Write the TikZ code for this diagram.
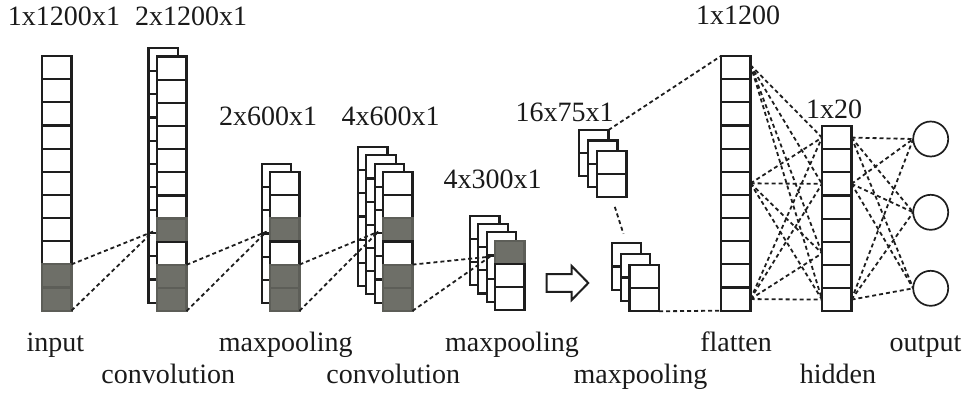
\documentclass[tikz,border=0pt]{standalone}
\usepackage{fontspec}
\setmainfont{Liberation Serif}
\usetikzlibrary{calc}

\definecolor{cnngray}{RGB}{110,111,104}
\definecolor{inkline}{RGB}{30,30,30}
\definecolor{labelink}{RGB}{26,26,26}

\def\cellw{29.5}
\def\cellh{23.15}

\tikzset{
  cell/.style={draw=inkline, line width=2.2pt, minimum width=\cellw pt,
    minimum height=\cellh pt, inner sep=0pt, outer sep=0pt},
  outnode/.style={circle, draw=inkline, line width=1.7pt, minimum size=35pt,
    inner sep=0pt, outer sep=0pt},
  link/.style={draw=inkline, line width=1.8pt, dash pattern=on 4pt off 3pt},
  lbl/.style={font=\fontsize{28}{32}\selectfont, text=labelink, anchor=base,
    inner sep=0pt},
}

% A column of cells: name, left edge, top edge, number of cells, shaded cells (0 = none)
\newcommand{\cnncol}[5]{%
  \foreach \k in {1,...,#4} {%
    \def\cellfill{white}%
    \def\celledge{inkline}%
    \foreach \g in {#5} {\ifnum\g=\k\relax \xdef\cellfill{cnngray}\xdef\celledge{cnngray!85!black}\fi}%
    \node[cell, fill=\cellfill, draw=\celledge] (#1-\k) at ({#2+\cellw/2}, {#3+(\k-0.5)*\cellh}) {};
  }%
}

\begin{document}
\begin{tikzpicture}[x=1pt, y=-1pt]
\useasboundingbox (0,0) rectangle (966,396);

% input
\cnncol{in}{42}{56}{11}{10,11}
% convolution 1
\cnncol{cA}{148.5}{48}{11}{0}
\cnncol{cB}{157}{56.5}{11}{8,10,11}
% maxpooling 1
\cnncol{pA}{261.7}{164}{6}{0}
\cnncol{pB}{270}{172}{6}{3,5,6}
% convolution 2
\cnncol{dA}{358}{147}{6}{0}
\cnncol{dB}{366.3}{155.3}{6}{0}
\cnncol{dC}{374.7}{163.7}{6}{0}
\cnncol{dD}{383}{172}{6}{3,5,6}
% maxpooling 2
\cnncol{qA}{470}{215.7}{3}{0}
\cnncol{qB}{478.3}{224}{3}{0}
\cnncol{qC}{486.7}{232.3}{3}{0}
\cnncol{qD}{495}{240.7}{3}{1}
% maxpooling 3, first and last maps
\cnncol{rA}{579}{130}{2}{0}
\cnncol{rB}{588}{140.5}{2}{0}
\cnncol{rC}{597}{151}{2}{0}
\cnncol{sA}{611.7}{243.3}{2}{0}
\cnncol{sB}{620.7}{254.3}{2}{0}
\cnncol{sC}{629.5}{265}{2}{0}
% flatten and hidden
\cnncol{fl}{721}{56}{11}{0}
\cnncol{hd}{822}{126}{8}{0}
% output units
\node[outnode] (o1) at (930.7,139) {};
\node[outnode] (o2) at (930.7,212.3) {};
\node[outnode] (o3) at (930.7,288.3) {};

% hollow block arrow
\draw[inkline, line width=2pt, fill=white, line join=miter]
  (546.7,274.2) -- (571.7,274.2) -- (571.7,266) -- (588.3,283) --
  (571.7,300) -- (571.7,291.8) -- (546.7,291.8) -- cycle;

% receptive-field connectors
\draw[link] (in-10.north east) -- ([xshift=-4pt,yshift=-1.5pt]cB-8.west);
\draw[link] (in-11.south east) -- ([xshift=-4pt,yshift=-1.5pt]cB-8.west);
\draw[link] (cB-10.north east) -- ([xshift=-3.5pt,yshift=-1.8pt]pB-3.west);
\draw[link] (cB-11.south east) -- ([xshift=-3.5pt,yshift=-1.8pt]pB-3.west);
\draw[link] (pB-5.north east) -- ([xshift=-4.7pt,yshift=-1.8pt]dD-3.west);
\draw[link] (pB-6.south east) -- ([xshift=-4.7pt,yshift=-1.8pt]dD-3.west);
\draw[link] (dD-5.north east) -- ([xshift=-5pt,yshift=-4.4pt]qD-1.west);
\draw[link] (dD-6.south east) -- ([xshift=-5pt,yshift=-4.4pt]qD-1.west);

% maxpooling 3 to flatten
\draw[link, shorten <=10pt, shorten >=10pt] (rC-2.south) -- (sA-1.north);
\draw[link] (rA-1.north east) -- (fl-1.north west);
\draw[link] (sC-2.south east) -- (fl-11.south west);

% dense connections
\foreach \b in {1,3,6,8} {
  \draw[link] ([yshift=2.5pt]fl-1.east) -- (hd-\b.west);
  \draw[link] (fl-6.east) -- (hd-\b.west);
  \draw[link] (fl-11.east) -- (hd-\b.west);
}
\foreach \a in {1,3,8} {
  \foreach \b in {1,2,3} {
    \draw[link] (hd-\a.east) -- (o\b.west);
  }
}

% size labels
\node[lbl] (s1) at (64,26) {1x1200x1};
\node[lbl] (s2) at (191,26) {2x1200x1};
\node[lbl] (s3) at (268,125) {2x600x1};
\node[lbl] (s4) at (390.5,125) {4x600x1};
\node[lbl] (s5) at (492.5,188) {4x300x1};
\node[lbl] (s6) at (564.5,121) {16x75x1};
\node[lbl] (s7) at (738,25) {1x1200};
\node[lbl] (s8) at (834,118) {1x20};

% layer names
\node[lbl] (n1) at (55.3,351.7) {input};
\node[lbl] (n2) at (168.3,383.3) {convolution};
\node[lbl] (n3) at (285.7,351.7) {maxpooling};
\node[lbl] (n4) at (393.3,383.3) {convolution};
\node[lbl] (n5) at (512,351.7) {maxpooling};
\node[lbl] (n6) at (640.5,383.3) {maxpooling};
\node[lbl] (n7) at (736,351.7) {flatten};
\node[lbl] (n8) at (838,383.3) {hidden};
\node[lbl] (n9) at (925.5,351.7) {output};
\end{tikzpicture}
\end{document}
